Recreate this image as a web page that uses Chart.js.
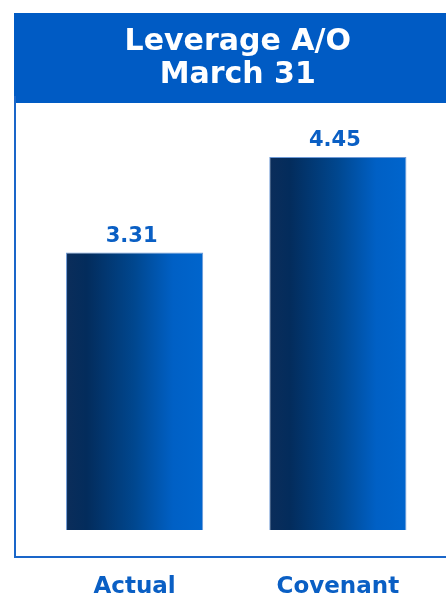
<!DOCTYPE html>
<html>
<head>
<meta charset="utf-8">
<script src="https://cdn.jsdelivr.net/npm/chart.js@4/dist/chart.umd.min.js"></script>
<style>
  html, body { margin: 0; padding: 0; background: #ffffff; }
  #wrap { width: 446px; height: 595px; }
</style>
</head>
<body>
<div id="wrap"><canvas id="c" width="446" height="595"></canvas></div>
<script>
// Chart data
const categories = ['Actual', 'Covenant'];
const leverage = [3.31, 4.45];
const titleLines = ['Leverage A/O', 'March 31'];

const BLUE = '#005bc4';
const TEXT_BLUE = '#0a5fc4';
const FONT = "'DejaVu Sans', Verdana, sans-serif";
const BAR_PCT = 0.675;

// Header band and frame lines around the plot
const framePlugin = {
  id: 'frame',
  beforeDraw(chart) {
    const ctx = chart.ctx;
    ctx.save();
    ctx.fillStyle = BLUE;
    ctx.fillRect(14, 13, chart.width - 14, 90);
    ctx.strokeStyle = '#1a66c9';
    ctx.lineWidth = 2;
    ctx.beginPath();
    ctx.moveTo(15, 96);
    ctx.lineTo(15, 557);
    ctx.lineTo(chart.width, 557);
    ctx.stroke();
    ctx.restore();
  }
};

// Value labels above each bar
const valueLabels = {
  id: 'valueLabels',
  afterDatasetsDraw(chart) {
    const ctx = chart.ctx;
    const meta = chart.getDatasetMeta(0);
    ctx.save();
    ctx.fillStyle = TEXT_BLUE;
    ctx.font = 'bold 21px ' + FONT;
    ctx.textAlign = 'center';
    ctx.textBaseline = 'alphabetic';
    meta.data.forEach((bar, i) => {
      ctx.fillText(leverage[i].toFixed(2), bar.x - 3, bar.y - 11);
    });
    ctx.restore();
  }
};

// Horizontal dark-to-bright fill for each bar
function barFill(c) {
  const chart = c.chart;
  const xs = chart.scales.x;
  if (!xs || c.dataIndex === undefined || !chart.chartArea) return '#004a9a';
  const cx = xs.getPixelForValue(c.dataIndex);
  const half = (xs.width / categories.length) * BAR_PCT / 2;
  const g = chart.ctx.createLinearGradient(cx - half, 0, cx + half, 0);
  g.addColorStop(0, '#0b2d5a');
  g.addColorStop(0.15, '#032c5c');
  g.addColorStop(0.5, '#00478f');
  g.addColorStop(0.78, '#0060c5');
  g.addColorStop(1, '#0065cd');
  return g;
}

new Chart(document.getElementById('c'), {
  type: 'bar',
  data: {
    labels: categories,
    datasets: [{
      data: leverage,
      backgroundColor: barFill,
      borderColor: '#6f9ad6',
      borderWidth: 1,
      barPercentage: BAR_PCT,
      categoryPercentage: 1
    }]
  },
  options: {
    responsive: false,
    animation: false,
    events: [],
    layout: { padding: { top: 13, left: 33, right: 3.5, bottom: -50 } },
    plugins: {
      legend: { display: false },
      tooltip: { enabled: false },
      title: {
        display: true,
        text: titleLines,
        color: '#ffffff',
        font: { family: FONT, size: 30, weight: 'bold', lineHeight: 1.1 },
        padding: { top: 13, bottom: 19 }
      }
    },
    scales: {
      x: {
        grid: { display: false, drawTicks: false },
        border: { display: false },
        ticks: {
          color: TEXT_BLUE,
          padding: 46,
          font: { family: FONT, size: 23, weight: 'bold', lineHeight: 1 }
        }
      },
      y: {
        display: false,
        min: 0,
        max: 5
      }
    }
  },
  plugins: [framePlugin, valueLabels]
});
</script>
</body>
</html>
